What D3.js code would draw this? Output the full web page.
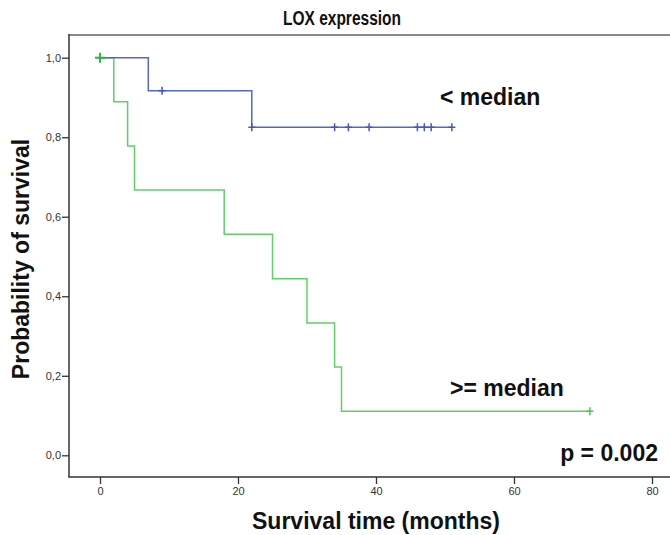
<!DOCTYPE html>
<html><head><meta charset="utf-8">
<script src="https://cdn.jsdelivr.net/npm/d3@7"></script>
<style>body{margin:0;background:#fff}svg{display:block}text{font-family:"Liberation Sans",Arial,sans-serif}</style>
</head><body><svg id="c" width="670" height="535"></svg>
<script>
// Data
const lowEventTimes = [0, 7, 22];
const lowSurvival = [1.0, 0.917, 0.825];
const lowEnd = 51;
const lowCensor = [9, 22, 34, 36, 39, 46, 47, 48, 51];
const highEventTimes = [0, 2, 4, 5, 18, 25, 30, 34, 35];
const highSurvival = [1.0, 0.889, 0.778, 0.667, 0.556, 0.444, 0.333, 0.222, 0.111];
const highEnd = 71;
const highCensor = [0, 71];
const xTicks = [0, 20, 40, 60, 80];
const yTicks = [0, 0.2, 0.4, 0.6, 0.8, 1.0];

const svg = d3.select("#c");
const x = d3.scaleLinear().domain([0, 80]).range([100, 652]);
const y = d3.scaleLinear().domain([0, 1]).range([455.3, 57.7]);
const L = 69, T = 35, B = 477, R = 670;

// frame
svg.append("line").attr("x1", L).attr("x2", R).attr("y1", T).attr("y2", T).attr("stroke", "#8a8a8a").attr("stroke-width", 2);
svg.append("line").attr("x1", L).attr("x2", L).attr("y1", T - 1).attr("y2", B).attr("stroke", "#333").attr("stroke-width", 1.5);
svg.append("line").attr("x1", L - 0.75).attr("x2", R).attr("y1", B).attr("y2", B).attr("stroke", "#333").attr("stroke-width", 1.5);

const fmt = d => d3.format(".1f")(d).replace(".", ",");
const ya = svg.append("g").attr("transform", `translate(${L},0)`)
  .call(d3.axisLeft(y).tickValues(yTicks).tickFormat(fmt).tickSize(7).tickPadding(1));
ya.select(".domain").remove();
ya.selectAll("line").attr("stroke", "#333").attr("stroke-width", 1.3);
ya.selectAll("text").attr("font-size", 11).attr("fill", "#333");

const xa = svg.append("g").attr("transform", `translate(0,${B})`)
  .call(d3.axisBottom(x).tickValues(xTicks).tickSize(7).tickPadding(3));
xa.select(".domain").remove();
xa.selectAll("line").attr("stroke", "#333").attr("stroke-width", 1.3);
xa.selectAll("text").attr("font-size", 11).attr("fill", "#333");

function series(times, surv, end) {
  const pts = times.map((t, i) => [t, surv[i]]);
  pts.push([end, surv[surv.length - 1]]);
  return pts;
}
function survAt(times, surv, t) {
  let s = surv[0];
  for (let i = 0; i < times.length; i++) if (times[i] <= t) s = surv[i];
  return s;
}
const line = d3.line().x(d => x(d[0])).y(d => y(d[1])).curve(d3.curveStepAfter);

const groups = [
  {times: highEventTimes, surv: highSurvival, end: highEnd, cens: highCensor, color: "#5fcf6b", ccolor: "#4cc25a"},
  {times: lowEventTimes, surv: lowSurvival, end: lowEnd, cens: lowCensor, color: "#5566c4", ccolor: "#4657b8"}
];
groups.forEach(g => {
  svg.append("path").attr("d", line(series(g.times, g.surv, g.end)))
    .attr("fill", "none").attr("stroke", g.color).attr("stroke-width", 1.5);
  g.cens.forEach(t => {
    const cx = x(t), cy = y(survAt(g.times, g.surv, t));
    svg.append("line").attr("x1", cx).attr("x2", cx).attr("y1", cy - 4).attr("y2", cy + 4)
      .attr("stroke", g.ccolor).attr("stroke-width", 1.5);
    svg.append("line").attr("x1", cx - 3.5).attr("x2", cx + 3.5).attr("y1", cy).attr("y2", cy)
      .attr("stroke", g.ccolor).attr("stroke-width", 1.5);
  });
});
// darker green censor at 0
svg.append("line").attr("x1", x(0)).attr("x2", x(0)).attr("y1", y(1) - 5).attr("y2", y(1) + 5).attr("stroke", "#33b444").attr("stroke-width", 2);
svg.append("line").attr("x1", x(0) - 5).attr("x2", x(0) + 5).attr("y1", y(1)).attr("y2", y(1)).attr("stroke", "#33b444").attr("stroke-width", 2);

// texts
svg.append("text").attr("x", 283).attr("y", 25).attr("font-size", 20).attr("font-weight", "bold").attr("fill", "#111")
  .attr("textLength", 118).attr("lengthAdjust", "spacingAndGlyphs").text("LOX expression");
svg.append("text").attr("x", 440).attr("y", 105).attr("font-size", 23).attr("font-weight", "bold").attr("fill", "#111").text("< median");
svg.append("text").attr("x", 450).attr("y", 396).attr("font-size", 23).attr("font-weight", "bold").attr("fill", "#111").text(">= median");
svg.append("text").attr("x", 658).attr("y", 461).attr("text-anchor", "end").attr("font-size", 23).attr("font-weight", "bold").attr("fill", "#111").text("p = 0.002");
svg.append("text").attr("x", 376).attr("y", 529).attr("text-anchor", "middle").attr("font-size", 23).attr("font-weight", "bold").attr("fill", "#111").text("Survival time (months)");
svg.append("text").attr("transform", "translate(29,259) rotate(-90)").attr("text-anchor", "middle").attr("font-size", 23).attr("font-weight", "bold").attr("fill", "#111").text("Probability of survival");
</script></body></html>
